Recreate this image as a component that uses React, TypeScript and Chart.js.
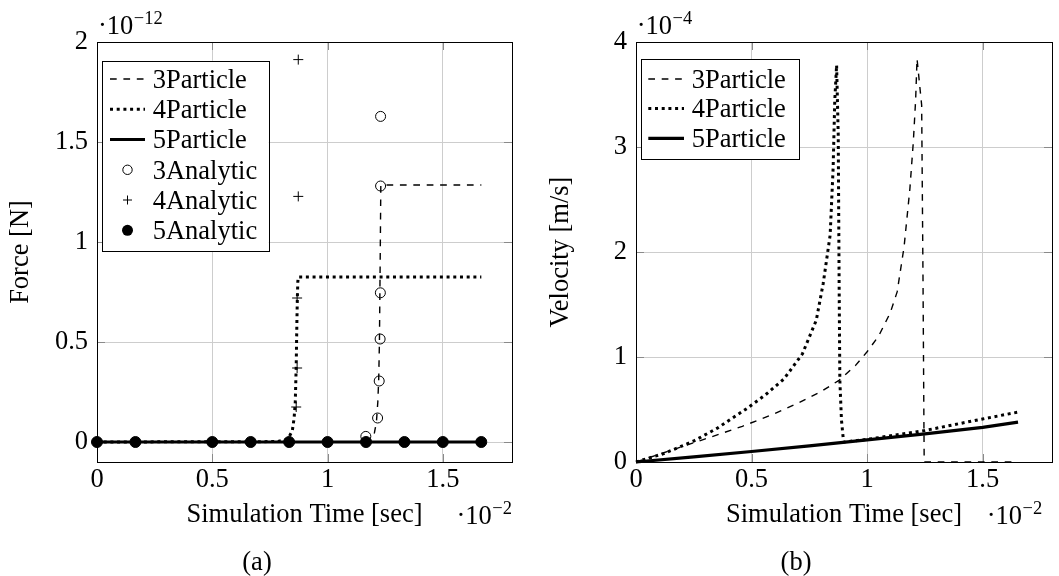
import { useEffect, useRef } from 'react';
import { Chart, registerables } from 'chart.js';

Chart.register(...registerables);

const FONT = 'Liberation Serif';
const FS = 26.5;

// ---------- Plot (a): Force [1e-12 N] vs time [1e-2 s] ----------
const time3Particle = [0, 1.17, 1.19, 1.203, 1.212, 1.218, 1.222, 1.225, 1.227, 1.229, 1.231, 1.667];
const force3Particle = [0, 0.002, 0.012, 0.045, 0.1, 0.2, 0.32, 0.5, 0.75, 1.0, 1.285, 1.285];

const time4Particle = [0, 0.78, 0.82, 0.835, 0.847, 0.855, 0.86, 0.864, 0.867, 0.869, 0.871, 0.873, 1.667];
const force4Particle = [0, 0.002, 0.012, 0.03, 0.055, 0.12, 0.2, 0.38, 0.6, 0.72, 0.8, 0.825, 0.825];

const time5Particle = [0, 1.6667];
const force5Particle = [0, 0];

const time3Analytic = [1.166, 1.217, 1.224, 1.228, 1.229, 1.23, 1.23];
const force3Analytic = [0.028, 0.12, 0.305, 0.515, 0.746, 1.28, 1.628];

const time4Analytic = [0.864, 0.868, 0.868, 0.873, 0.873];
const force4Analytic = [0.175, 0.37, 0.72, 1.228, 1.912];

const time5Analytic = [0, 0.1667, 0.5, 0.6667, 0.8333, 1, 1.1667, 1.3333, 1.5, 1.6667];
const force5Analytic = [0, 0, 0, 0, 0, 0, 0, 0, 0, 0];

// ---------- Plot (b): Velocity [1e-4 m/s] vs time [1e-2 s] ----------
const timeVel3 = [0, 0.15, 0.3, 0.46, 0.6, 0.7, 0.8, 0.88, 0.95, 1.0, 1.05, 1.1, 1.13, 1.16, 1.185, 1.2, 1.21, 1.216, 1.236, 1.242, 1.246, 1.247, 1.4, 1.653];
const vel3Particle = [0, 0.11, 0.22, 0.34, 0.46, 0.56, 0.67, 0.78, 0.92, 1.05, 1.2, 1.42, 1.62, 2.05, 2.6, 3.05, 3.45, 3.84, 3.4, 1.7, 0.3, 0, 0, 0];

const timeVel4 = [0, 0.12, 0.25, 0.35, 0.48, 0.56, 0.64, 0.72, 0.78, 0.81, 0.84, 0.853, 0.86, 0.868, 0.875, 0.879, 0.882, 0.889, 0.896, 0.9, 1.0, 1.25, 1.5, 1.653];
const vel4Particle = [0, 0.08, 0.2, 0.32, 0.51, 0.64, 0.79, 1.03, 1.35, 1.7, 2.16, 2.8, 3.44, 3.78, 3.12, 1.68, 0.78, 0.4, 0.24, 0.19, 0.215, 0.3, 0.41, 0.475];

const timeVel5 = [0, 0.25, 0.5, 0.75, 1.0, 1.25, 1.5, 1.653];
const vel5Particle = [0, 0.048, 0.1, 0.153, 0.21, 0.268, 0.33, 0.38];

// ---------- ticks ----------
const timeTicks = [0, 0.5, 1, 1.5];
const timeTickLabels = ['0', '0.5', '1', '1.5'];
const forceTicks = [0, 0.5, 1, 1.5, 2];
const forceTickLabels = ['0', '0.5', '1', '1.5', '2'];
const velTicks = [0, 1, 2, 3, 4];
const velTickLabels = ['0', '1', '2', '3', '4'];

const forceLegendLabels = ['3Particle', '4Particle', '5Particle', '3Analytic', '4Analytic', '5Analytic'];
const velLegendLabels = ['3Particle', '4Particle', '5Particle'];

type Kind = 'dash' | 'dot' | 'solid' | 'circle' | 'plus' | 'disc';
const forceKinds: Kind[] = ['dash', 'dot', 'solid', 'circle', 'plus', 'disc'];
const velKinds: Kind[] = ['dash', 'dot', 'solid'];

const DASH = [6.7, 6.7];
const DOT = [3, 3.7];

const pts = (xs: number[], ys: number[]) => xs.map((x, i) => ({ x, y: ys[i] }));

function drawSample(ctx: CanvasRenderingContext2D, kind: Kind, x1: number, x2: number, y: number) {
  ctx.save();
  ctx.strokeStyle = '#000';
  ctx.fillStyle = '#000';
  const cx = (x1 + x2) / 2;
  if (kind === 'dash' || kind === 'dot' || kind === 'solid') {
    ctx.lineWidth = kind === 'dash' ? 1.4 : kind === 'dot' ? 3 : 3.2;
    ctx.setLineDash(kind === 'dash' ? DASH : kind === 'dot' ? DOT : []);
    ctx.beginPath();
    ctx.moveTo(x1, y);
    ctx.lineTo(x2, y);
    ctx.stroke();
  } else if (kind === 'circle') {
    ctx.lineWidth = 1;
    ctx.beginPath();
    ctx.arc(cx, y, 4.7, 0, Math.PI * 2);
    ctx.stroke();
  } else if (kind === 'plus') {
    ctx.lineWidth = 1;
    ctx.beginPath();
    ctx.moveTo(cx - 4.5, y);
    ctx.lineTo(cx + 4.5, y);
    ctx.moveTo(cx, y - 4.5);
    ctx.lineTo(cx, y + 4.5);
    ctx.stroke();
  } else {
    ctx.beginPath();
    ctx.arc(cx, y, 5.5, 0, Math.PI * 2);
    ctx.fill();
  }
  ctx.restore();
}

interface Decor {
  box: [number, number, number, number];
  rows: number[];
  labels: string[];
  kinds: Kind[];
  sample: [number, number];
  textX: number;
  expTop: [number, number, string];
  expBottom: [number, number, string];
  caption: [number, number, string];
}

function drawExp(ctx: CanvasRenderingContext2D, x: number, y: number, sup: string) {
  ctx.font = `${FS}px "${FONT}"`;
  ctx.textAlign = 'left';
  ctx.textBaseline = 'alphabetic';
  ctx.fillText('·10', x, y);
  const w = ctx.measureText('·10').width;
  ctx.font = `18.5px "${FONT}"`;
  ctx.fillText(sup, x + w + 0.5, y - 9.5);
}

function makeDecor(d: Decor) {
  return {
    id: 'decor',
    beforeDatasetsDraw(chart: any) {
      const ctx: CanvasRenderingContext2D = chart.ctx;
      const { left, right, top, bottom } = chart.chartArea;
      ctx.save();
      ctx.strokeStyle = '#8a8a8a';
      ctx.lineWidth = 1;
      ctx.beginPath();
      const xs = chart.scales.x;
      const ys = chart.scales.y;
      xs.ticks.forEach((t: any) => {
        const p = Math.round(xs.getPixelForValue(t.value)) + 0.5;
        ctx.moveTo(p, bottom);
        ctx.lineTo(p, bottom - 8);
        ctx.moveTo(p, top);
        ctx.lineTo(p, top + 8);
      });
      ys.ticks.forEach((t: any) => {
        const p = Math.round(ys.getPixelForValue(t.value)) + 0.5;
        ctx.moveTo(left, p);
        ctx.lineTo(left + 8, p);
        ctx.moveTo(right, p);
        ctx.lineTo(right - 8, p);
      });
      ctx.stroke();
      ctx.restore();
    },
    afterDraw(chart: any) {
      const ctx: CanvasRenderingContext2D = chart.ctx;
      const { left, right, top, bottom } = chart.chartArea;
      ctx.save();
      // axis box
      ctx.strokeStyle = '#000';
      ctx.lineWidth = 1;
      const l = Math.round(left) + 0.5;
      const t = Math.round(top) + 0.5;
      ctx.strokeRect(l, t, Math.round(right) - Math.round(left), Math.round(bottom) - Math.round(top));
      // legend
      const [bx, by, bw, bh] = d.box;
      ctx.fillStyle = '#fff';
      ctx.fillRect(bx, by, bw, bh);
      ctx.strokeStyle = '#000';
      ctx.lineWidth = 1;
      ctx.strokeRect(Math.round(bx) + 0.5, Math.round(by) + 0.5, Math.round(bw), Math.round(bh));
      d.labels.forEach((lab, i) => {
        const ry = d.rows[i];
        drawSample(ctx, d.kinds[i], d.sample[0], d.sample[1], ry);
        ctx.fillStyle = '#000';
        ctx.font = `${FS}px "${FONT}"`;
        ctx.textAlign = 'left';
        ctx.textBaseline = 'alphabetic';
        ctx.fillText(lab, d.textX, ry + 8.7);
      });
      // exponent labels
      ctx.fillStyle = '#000';
      drawExp(ctx, d.expTop[0], d.expTop[1], d.expTop[2]);
      drawExp(ctx, d.expBottom[0], d.expBottom[1], d.expBottom[2]);
      // caption
      ctx.font = `${FS}px "${FONT}"`;
      ctx.textAlign = 'center';
      ctx.textBaseline = 'alphabetic';
      ctx.fillText(d.caption[2], d.caption[0], d.caption[1]);
      ctx.restore();
    },
  };
}

function lineDs(label: string, xs: number[], ys: number[], kind: Kind, order: number) {
  return {
    label,
    data: pts(xs, ys),
    showLine: true,
    borderColor: '#000',
    borderWidth: kind === 'dash' ? 1.4 : kind === 'dot' ? 3 : 3.2,
    borderDash: kind === 'dash' ? DASH : kind === 'dot' ? DOT : [],
    borderJoinStyle: 'round',
    pointRadius: 0,
    order,
    clip: false,
  };
}

function markDs(label: string, xs: number[], ys: number[], kind: Kind, order: number) {
  return {
    label,
    data: pts(xs, ys),
    showLine: false,
    pointStyle: kind === 'plus' ? 'cross' : 'circle',
    pointRadius: kind === 'disc' ? 5.5 : 5,
    pointBorderWidth: 1,
    pointBorderColor: '#000',
    pointBackgroundColor: kind === 'disc' ? '#000' : 'rgba(0,0,0,0)',
    order,
    clip: false,
  };
}

function axisCommon(ticks: number[], labels: string[]) {
  return {
    type: 'linear',
    bounds: 'data',
    afterBuildTicks: (s: any) => {
      s.ticks = ticks.map((v) => ({ value: v }));
    },
    ticks: {
      callback: (_v: any, i: number) => labels[i],
      font: { family: FONT, size: FS },
      color: '#000',
      autoSkip: false,
      maxRotation: 0,
    },
    grid: { color: '#cdcdcd', lineWidth: 1, drawTicks: false },
    border: { display: false },
  };
}

function buildConfig(
  datasets: any[],
  yTicks: number[],
  yLabels: string[],
  yMin: number,
  yMax: number,
  yTitle: string,
  yWidth: number,
  yTitlePad: number,
  padRight: number,
  decor: Decor
): any {
  const xAxis: any = axisCommon(timeTicks, timeTickLabels);
  xAxis.min = 0;
  xAxis.max = 1.8;
  xAxis.ticks.padding = 2;
  xAxis.afterFit = (s: any) => {
    s.height = 114;
  };
  xAxis.title = {
    display: true,
    text: 'Simulation Time [sec]',
    font: { family: FONT, size: FS },
    color: '#000',
    padding: { top: 0, bottom: 45 },
  };
  const yAxis: any = axisCommon(yTicks, yLabels);
  yAxis.min = yMin;
  yAxis.max = yMax;
  yAxis.ticks.padding = 9;
  yAxis.afterFit = (s: any) => {
    s.width = yWidth;
  };
  yAxis.title = {
    display: true,
    text: yTitle,
    font: { family: FONT, size: FS },
    color: '#000',
    padding: { top: yTitlePad, bottom: 0 },
  };
  return {
    type: 'scatter',
    data: { datasets },
    options: {
      responsive: false,
      animation: false,
      events: [],
      devicePixelRatio: 1,
      layout: { padding: { top: 42, right: padRight, bottom: 0, left: 0 } },
      plugins: { legend: { display: false }, tooltip: { enabled: false }, title: { display: false } },
      scales: { x: xAxis, y: yAxis },
    },
    plugins: [makeDecor(decor)],
  };
}

function Plot({ left, width, make }: { left: number; width: number; make: () => any }) {
  const ref = useRef<HTMLCanvasElement>(null);
  useEffect(() => {
    const chart = new Chart(ref.current as HTMLCanvasElement, make());
    return () => chart.destroy();
  }, []);
  return (
    <canvas
      ref={ref}
      width={width}
      height={576}
      style={{ position: 'absolute', left, top: 0, width, height: 576, display: 'block' }}
    />
  );
}

const forceConfig = () =>
  buildConfig(
    [
      lineDs('3Particle', time3Particle, force3Particle, 'dash', 5),
      lineDs('4Particle', time4Particle, force4Particle, 'dot', 4),
      lineDs('5Particle', time5Particle, force5Particle, 'solid', 3),
      markDs('3Analytic', time3Analytic, force3Analytic, 'circle', 2),
      markDs('4Analytic', time4Analytic, force4Analytic, 'plus', 1),
      markDs('5Analytic', time5Analytic, force5Analytic, 'disc', 0),
    ],
    forceTicks,
    forceTickLabels,
    -0.1,
    2,
    'Force [N]',
    97,
    5,
    18,
    {
      box: [102, 60.7, 166.7, 190.3],
      rows: [79, 109.3, 139.5, 169.8, 200, 230.3],
      labels: forceLegendLabels,
      kinds: forceKinds,
      sample: [110, 145],
      textX: 152.7,
      expTop: [98, 33.5, '−12'],
      expBottom: [456.5, 523.5, '−2'],
      caption: [257, 570, '(a)'],
    }
  );

const velConfig = () =>
  buildConfig(
    [
      lineDs('3Particle', timeVel3, vel3Particle, 'dash', 5),
      lineDs('4Particle', timeVel4, vel4Particle, 'dot', 4),
      lineDs('5Particle', timeVel5, vel5Particle, 'solid', 3),
    ],
    velTicks,
    velTickLabels,
    0,
    4,
    'Velocity [m/s]',
    106,
    15,
    7,
    {
      box: [111, 59.3, 158, 99.7],
      rows: [79, 108.5, 138.3],
      labels: velLegendLabels,
      kinds: velKinds,
      sample: [118.3, 154],
      textX: 161.7,
      expTop: [106.7, 33.5, '−4'],
      expBottom: [456.7, 523.5, '−2'],
      caption: [266, 570, '(b)'],
    }
  );

export default function App() {
  return (
    <div style={{ position: 'absolute', left: 0, top: 0, width: 1059, height: 576, background: '#fff', overflow: 'hidden' }}>
      <Plot left={0} width={530} make={forceConfig} />
      <Plot left={530} width={529} make={velConfig} />
    </div>
  );
}
